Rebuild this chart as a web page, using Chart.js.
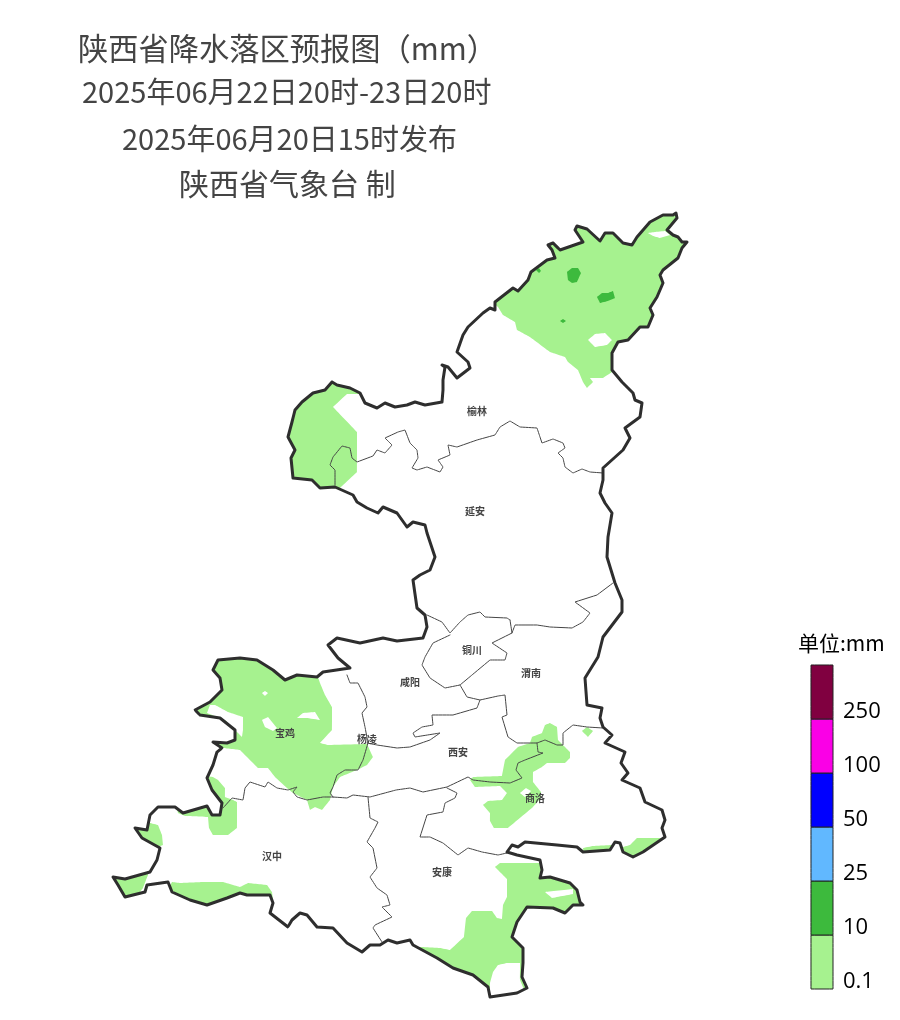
<!DOCTYPE html>
<html><head><meta charset="utf-8">
<script src="https://cdn.jsdelivr.net/npm/chart.js@4/dist/chart.umd.min.js"></script>
<style>html,body{margin:0;padding:0;background:#fff}canvas{display:block}</style></head>
<body><canvas id="c" width="900" height="1020"></canvas>
<script>
const titleLines=["陕西省降水落区预报图（mm）","2025年06月22日20时-23日20时","2025年06月20日15时发布","陕西省气象台 制"];
const cityNames=["榆林","延安","铜川","咸阳","渭南","宝鸡","杨凌","西安","商洛","汉中","安康"];
const cityPoints=[[477,411],[475,511],[472,650],[410,682],[531,673],[285,733],[367,739],[458,752],[535,798],[272,856],[442,872]];
const legendTitle="单位:mm";
const legendLabels=["0.1","10","25","50","100","250"];
const legendColors=["#A6F28F","#3DBA3D","#61B8FF","#0000FF","#FA00E6","#800040"];
const legendEdges=[989,935,881,827,773,719,665];

const province=[[332,382],[337,385],[350,388],[360,393],[365,403],[377,408],[385,403],[395,407],[407,405],[415,402],[425,405],[442,402],[443,390],[443,380],[445,367],[442,365],[448,367],[457,378],[470,368],[468,362],[457,352],[463,335],[468,327],[483,313],[490,308],[495,310],[495,302],[513,288],[518,291],[528,280],[531,272],[547,260],[555,258],[552,250],[548,245],[553,243],[560,250],[583,242],[575,230],[577,226],[587,229],[600,241],[605,233],[613,233],[623,243],[632,245],[637,237],[650,222],[663,215],[673,215],[676,213],[677,218],[667,230],[673,235],[678,237],[682,242],[687,242],[682,248],[678,258],[663,270],[660,275],[663,283],[657,297],[650,308],[653,315],[648,327],[640,327],[628,340],[618,342],[612,353],[612,370],[622,382],[633,393],[635,400],[642,403],[640,417],[625,428],[630,438],[623,450],[603,468],[603,480],[600,493],[605,503],[612,513],[608,537],[607,557],[615,583],[622,600],[622,612],[603,637],[598,657],[585,678],[587,705],[602,708],[600,718],[603,727],[612,735],[605,743],[625,752],[621,763],[628,773],[622,780],[640,788],[645,802],[662,810],[665,820],[662,828],[665,837],[643,852],[633,857],[623,852],[620,843],[615,842],[610,850],[583,852],[577,847],[557,845],[525,842],[518,847],[512,845],[507,852],[517,855],[540,860],[542,870],[540,878],[550,877],[570,883],[577,890],[580,902],[583,905],[573,905],[565,913],[553,908],[527,907],[517,922],[512,937],[523,948],[523,963],[522,977],[527,988],[517,993],[490,997],[488,987],[473,975],[453,968],[437,958],[413,945],[410,940],[397,943],[388,940],[380,945],[370,945],[362,952],[347,943],[333,928],[317,927],[307,915],[300,913],[292,920],[288,927],[270,913],[273,903],[270,895],[247,895],[240,893],[227,898],[207,905],[190,900],[172,892],[168,882],[147,885],[145,892],[125,897],[118,885],[113,877],[125,879],[150,872],[157,860],[160,848],[142,838],[135,828],[147,830],[150,815],[158,807],[175,807],[183,813],[207,806],[212,815],[220,815],[222,803],[212,790],[207,778],[213,765],[217,752],[222,748],[213,742],[227,743],[235,740],[235,730],[220,718],[200,715],[195,710],[210,702],[222,690],[220,678],[213,670],[218,660],[240,658],[257,660],[273,670],[285,680],[297,675],[317,677],[323,672],[350,668],[338,658],[328,645],[337,638],[360,643],[383,638],[397,641],[423,638],[427,627],[425,615],[417,608],[413,580],[420,575],[430,570],[435,557],[427,533],[425,525],[413,522],[407,527],[397,513],[383,507],[378,513],[367,508],[357,502],[353,495],[335,487],[320,488],[312,480],[293,478],[291,458],[295,450],[288,437],[292,422],[295,410],[302,402],[313,393],[325,390],[332,382]];

const lineYulinYanan=[[603,473],[590,472],[582,469],[573,473],[565,467],[563,458],[558,453],[565,448],[563,443],[553,439],[542,443],[540,437],[537,428],[520,427],[510,421],[500,427],[495,435],[477,440],[457,447],[448,445],[450,455],[438,460],[443,467],[440,472],[427,467],[417,470],[412,468],[418,458],[417,450],[410,443],[405,430],[398,432],[385,438],[392,445],[385,453],[377,450],[373,456],[357,462],[352,458],[350,448],[342,446],[333,457],[330,465],[335,470],[335,485]];
const lineYananWeinan=[[613,583],[597,595],[575,602],[590,613],[583,622],[572,628],[550,627],[537,625],[515,625],[512,633]];
const lineTongchuanNorth=[[510,620],[507,618],[485,617],[480,612],[468,615],[460,622],[450,633],[442,622],[427,615]];
const lineTongchuan=[[450,635],[433,643],[425,657],[422,665],[430,678],[445,688],[460,685],[472,675],[490,660],[505,660],[507,653],[492,643],[512,633],[510,620]];
const lineWeinanSouth=[[460,685],[467,697],[480,700],[498,696],[505,695],[507,715],[502,717],[508,737],[517,743],[537,743],[545,740],[557,745],[563,745],[563,733],[573,725],[587,727],[603,728]];
const lineXianShangluo=[[537,743],[538,752],[543,753],[525,760],[518,763],[516,770],[522,778],[510,783],[490,782],[473,780],[468,777],[447,787],[423,792],[410,788],[396,790],[370,797],[353,795],[347,798],[333,797]];
const lineXianyangSouth=[[480,700],[477,708],[453,715],[432,715],[433,725],[422,727],[413,733],[415,737],[440,733],[430,740],[410,747],[397,748],[377,745],[367,743]];
const lineBaojiEast=[[347,675],[350,683],[358,683],[365,697],[367,707],[362,713],[365,727],[368,743],[363,760],[358,770],[345,770],[337,775],[333,787],[330,793],[333,797]];
const lineBaojiSouth=[[333,797],[323,797],[307,800],[297,797],[293,792],[297,787],[288,790],[277,788],[268,782],[265,787],[250,782],[245,788],[243,800],[232,798],[223,808]];
const lineHanzhongAnkang=[[368,797],[370,818],[378,822],[375,828],[367,842],[373,848],[377,868],[370,877],[377,888],[387,895],[390,905],[382,907],[392,917],[375,925],[373,928],[382,942]];
const lineAnkangShangluo=[[447,788],[457,793],[455,798],[445,803],[443,812],[427,815],[420,837],[430,837],[443,843],[458,855],[468,848],[482,852],[498,855],[507,853]];

const rainNorth=[[498,307],[503,315],[515,322],[517,330],[530,337],[550,352],[565,357],[568,362],[578,370],[583,382],[587,388],[593,382],[590,378],[603,378],[612,372],[630,360],[700,300],[700,205],[570,215],[480,290]];
const rainWest=[[347,394],[333,407],[357,432],[357,472],[340,488],[280,500],[270,370],[358,375],[360,394]];
const rainBaoji=[[318,677],[320,683],[325,695],[332,707],[332,730],[320,743],[328,745],[367,744],[373,757],[367,765],[357,770],[340,777],[333,787],[330,800],[322,810],[315,807],[310,810],[307,800],[293,793],[287,788],[275,777],[268,768],[258,768],[240,750],[223,748],[190,745],[190,650],[318,650]];
const rainHanzhongNorth=[[213,777],[218,780],[225,788],[225,797],[233,800],[237,802],[237,828],[228,835],[213,835],[209,828],[208,817],[185,816],[178,813],[175,800],[200,790],[205,776]];
const rainWestTip=[[150,823],[158,825],[162,835],[163,845],[150,850],[125,840],[130,815],[150,815]];
const rainSouthWestTip=[[148,875],[143,888],[130,905],[105,895],[105,870],[148,870]];
const rainHanzhongSouth=[[172,882],[180,883],[203,882],[223,882],[240,887],[248,883],[267,885],[272,892],[273,900],[265,915],[200,915],[165,895]];
const rainShangluo=[[550,723],[557,727],[558,740],[570,752],[570,758],[565,763],[547,763],[542,767],[533,772],[533,782],[541,792],[541,798],[533,807],[508,828],[494,828],[490,821],[490,813],[483,805],[488,801],[502,800],[507,793],[500,786],[475,787],[470,780],[473,777],[502,776],[505,760],[518,747],[530,743],[532,737],[542,733],[545,725]];
const rainDiamond=[[582,731],[587,727],[593,731],[588,737]];
const rainSouthEastA=[[583,848],[593,846],[612,845],[612,860],[585,860]];
const rainSouthEastB=[[623,847],[630,845],[637,838],[662,838],[668,842],[700,860],[625,865]];
const rainAnkang=[[495,867],[500,863],[538,863],[600,865],[600,930],[530,1005],[490,1005],[430,975],[417,947],[422,947],[440,948],[450,950],[464,937],[466,918],[472,911],[492,911],[497,918],[502,919],[503,905],[507,897],[507,879]];
const heavyCells=[[[567,272],[572,268],[578,268],[581,273],[577,282],[572,283],[568,280]],[[597,297],[602,293],[608,293],[613,291],[615,298],[608,301],[600,303]],[[560,321],[563,319],[566,321],[563,323]],[[536,270],[539,268],[541,271],[539,273]]];
const dryHoles=[[[648,233],[655,232],[665,231],[670,235],[660,238],[653,236]],[[588,340],[595,334],[605,333],[612,340],[607,345],[595,347]],[[210,705],[215,705],[228,712],[243,717],[243,730],[242,737],[237,732],[225,720],[207,713]],[[262,693],[265,691],[268,693],[265,696]],[[262,720],[268,717],[277,728],[273,731],[265,727]],[[297,718],[303,713],[315,712],[320,720],[307,718]],[[520,793],[526,788],[531,791],[525,797]],[[545,892],[573,889],[573,894],[552,898]],[[493,972],[498,965],[507,963],[520,963],[520,980],[523,987],[527,997],[490,997],[490,983]]];

const LIGHT=legendColors[0],HEAVY=legendColors[1];
const poly=(d,c)=>({data:d.concat([d[0]]),showLine:true,fill:'shape',backgroundColor:c,borderWidth:0,pointRadius:0,tension:0.001});
const stroke=(d,c,w)=>({data:d,showLine:true,fill:false,borderColor:c,borderWidth:w,pointRadius:0,tension:0.001,borderJoinStyle:'round',borderCapStyle:'round'});

const rainSets=[rainNorth,rainWest,rainBaoji,rainHanzhongNorth,rainWestTip,rainSouthWestTip,rainHanzhongSouth,rainShangluo,rainDiamond,rainSouthEastA,rainSouthEastB,rainAnkang].map(d=>poly(d,LIGHT))
 .concat(heavyCells.map(d=>poly(d,HEAVY))).concat(dryHoles.map(d=>poly(d,'#ffffff')));
const thinSets=[lineYulinYanan,lineYananWeinan,lineTongchuanNorth,lineTongchuan,lineWeinanSouth,lineXianShangluo,lineXianyangSouth,lineBaojiEast,lineBaojiSouth,lineHanzhongAnkang,lineAnkangShangluo].map(d=>stroke(d,'#444444',1));
const legendSets=legendColors.map((c,i)=>{const x0=811,x1=833,a=legendEdges[i],b=legendEdges[i+1];
  return Object.assign(poly([[x0,a],[x1,a],[x1,b],[x0,b]],c),{borderWidth:1,borderColor:'#222222'});});
const sets=rainSets.concat(thinSets,[stroke(province,'#2e2e2e',3)],legendSets);
sets.forEach((s,i)=>{s.order=sets.length-i;});
const lastRain=rainSets.length-1;

const layoutPlugin={id:'mapText',
 beforeDatasetsDraw(chart){const {ctx,scales:{x,y}}=chart;ctx.save();ctx.beginPath();
   province.forEach((p,i)=>{const X=x.getPixelForValue(p[0]),Y=y.getPixelForValue(p[1]);i?ctx.lineTo(X,Y):ctx.moveTo(X,Y);});ctx.closePath();ctx.clip();},
 afterDatasetDraw(chart,args){if(args.index===lastRain)chart.ctx.restore();},
 afterDatasetsDraw(chart){const {ctx,scales:{x,y}}=chart;ctx.save();
   const cjk='"Noto Sans CJK SC"';
   ctx.textBaseline='middle';ctx.textAlign='left';ctx.fillStyle='#444444';
   const spec=[[78,48,419,31],[82,92,428,29],[122,139,346,29],[179,184,234,30]];
   titleLines.forEach((t,i)=>{const s=spec[i];ctx.font=s[3]+'px '+cjk;ctx.fillText(t,s[0],s[1],s[2]);});
   ctx.textAlign='center';ctx.font='bold 10px '+cjk;ctx.fillStyle='#444444';
   cityNames.forEach((n,i)=>ctx.fillText(n,x.getPixelForValue(cityPoints[i][0]),y.getPixelForValue(cityPoints[i][1])));
   ctx.fillStyle='#000000';ctx.textAlign='left';ctx.font='21px '+cjk;ctx.fillText(legendTitle,798,643);
   ctx.font='22px "Open Sans"';
   legendLabels.forEach((l,i)=>ctx.fillText(l,843,y.getPixelForValue(legendEdges[i])-7));
   ctx.restore();}
};
new Chart(document.getElementById('c'),{type:'scatter',data:{datasets:sets},plugins:[layoutPlugin],
 options:{responsive:false,animation:false,devicePixelRatio:1,layout:{padding:0},
  plugins:{legend:{display:false},title:{display:false},tooltip:{enabled:false}},
  scales:{x:{type:'linear',min:0,max:900,display:false},y:{type:'linear',min:0,max:1020,reverse:true,display:false}}}});
</script></body></html>
